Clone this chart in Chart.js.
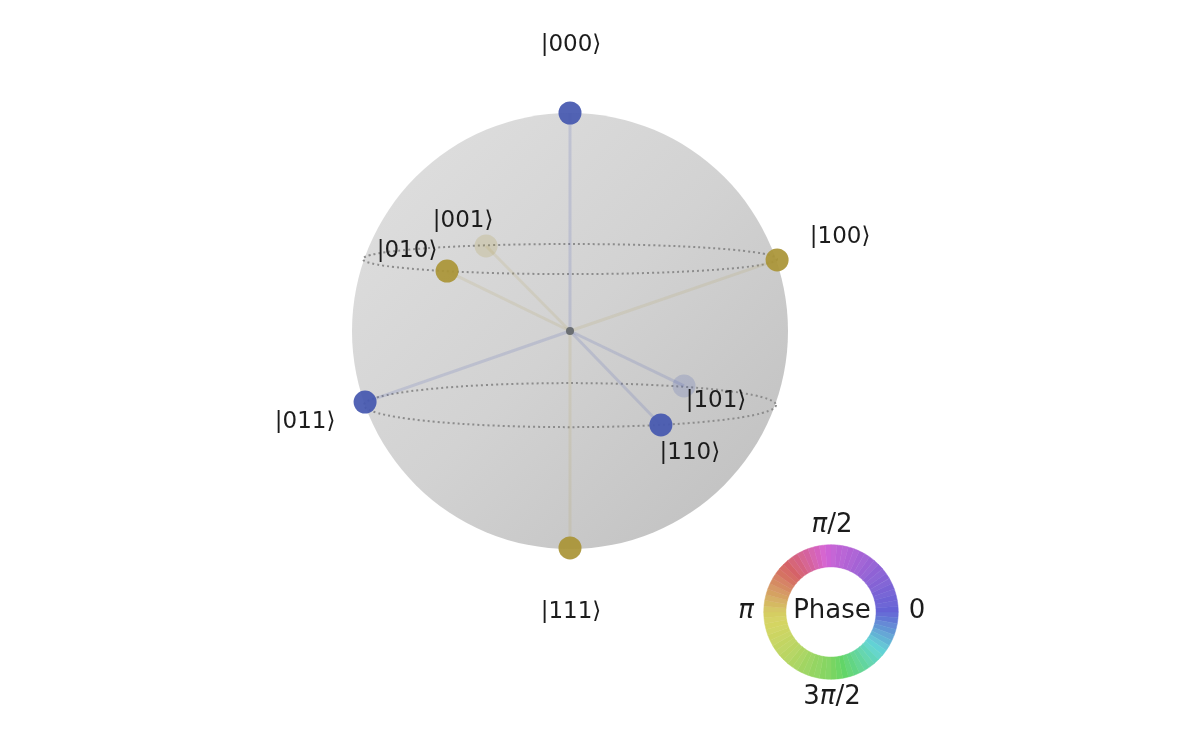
<!DOCTYPE html>
<html>
<head>
<meta charset="utf-8">
<title>Q-sphere</title>
<script src="https://cdn.jsdelivr.net/npm/chart.js@4/dist/chart.umd.min.js"></script>
<style>
  html, body { margin: 0; padding: 0; background: #fff; }
  #wrap { position: relative; width: 1200px; height: 744px; overflow: hidden; }
  #sphere { position: absolute; left: 0; top: 0; filter: blur(0.6px); }
  #wheel { position: absolute; left: 721px; top: 500px; filter: blur(0.7px); }
</style>
</head>
<body>
<div id="wrap">
  <canvas id="sphere" width="1200" height="744"></canvas>
  <canvas id="wheel" width="220" height="224"></canvas>
</div>
<script>
// basis states, positions in sphere radii
const stateLabels = ["|000⟩", "|001⟩", "|010⟩", "|011⟩", "|100⟩", "|101⟩", "|110⟩", "|111⟩"];
const stateX = [0, -0.385, -0.564, -0.94, 0.95, 0.523, 0.417, 0];
const stateY = [1, 0.39, 0.275, -0.326, 0.326, -0.252, -0.431, -0.995];
const statePhase = ["blue", "gold", "gold", "blue", "gold", "blue", "blue", "gold"];
const stateOpacity = [1, 0.2, 1, 1, 1, 0.2, 1, 1];

// dotted latitude rings
const ringY = [0.33, -0.34];
const ringRx = [0.95, 0.945];
const ringRy = [0.069, 0.101];

// phase wheel, hue measured every so often around the ring
const wheelAngles = [0, 45, 90, 120, 135, 180, 225, 270, 315, 360];
const wheelHues = [240, 265, 292, 340, 360, 415, 435, 465, 530, 600];
const wheelTicks = ["0", "π/2", "π", "3π/2"];

const cx = 570, cy = 331, unit = 218;
const phaseRgb = { blue: "70,88,175", gold: "170,148,55" };

// where each label sits relative to its point, px
const labelOffset = [
  [1, -68], [-23, -25], [-40, -20], [-60, 20], [63, -23], [32, 15], [29, 28], [1, 64],
];

const lineSets = stateLabels.map((name, i) => ({
  label: name,
  data: [{ x: 0, y: 0 }, { x: stateX[i], y: stateY[i] }],
  showLine: true,
  borderColor: `rgba(${phaseRgb[statePhase[i]]},${statePhase[i] === "blue" ? 0.17 : 0.13})`,
  borderWidth: 3,
  pointRadius: [0, 11.5],
  pointBorderWidth: 0,
  pointBackgroundColor: `rgba(${phaseRgb[statePhase[i]]},${stateOpacity[i] === 1 ? 0.93 : stateOpacity[i]})`,
}));

const originSet = {
  label: "origin",
  data: [{ x: 0, y: 0 }],
  pointRadius: 4,
  pointBorderWidth: 0,
  pointBackgroundColor: "#6a6e72",
};

const spherePlugin = {
  id: "sphere",
  beforeDatasetsDraw(chart) {
    const { ctx, scales: { x, y } } = chart;
    const px = x.getPixelForValue(0), py = y.getPixelForValue(0);
    const r = x.getPixelForValue(1) - px;
    const grad = ctx.createLinearGradient(px - r * 0.7, py - r * 0.7, px + r * 0.7, py + r * 0.7);
    grad.addColorStop(0, "#dcdcdc");
    grad.addColorStop(0.5, "#d2d2d2");
    grad.addColorStop(1, "#c4c4c4");
    ctx.save();
    ctx.fillStyle = grad;
    ctx.beginPath();
    ctx.arc(px, py, r, 0, Math.PI * 2);
    ctx.fill();
    ctx.strokeStyle = "#8c8c8c";
    ctx.lineWidth = 2;
    ctx.setLineDash([2, 3]);
    ringY.forEach((v, i) => {
      ctx.beginPath();
      ctx.ellipse(px, y.getPixelForValue(v), ringRx[i] * r, ringRy[i] * r, 0, 0, Math.PI * 2);
      ctx.stroke();
    });
    ctx.restore();
  },
  afterDatasetsDraw(chart) {
    const { ctx, scales: { x, y } } = chart;
    ctx.save();
    ctx.font = "23px 'DejaVu Sans'";
    ctx.fillStyle = "#1c1c1c";
    ctx.textAlign = "center";
    ctx.textBaseline = "middle";
    stateLabels.forEach((name, i) => {
      ctx.fillText(
        name,
        x.getPixelForValue(stateX[i]) + labelOffset[i][0],
        y.getPixelForValue(stateY[i]) + labelOffset[i][1]
      );
    });
    ctx.restore();
  },
};

new Chart(document.getElementById("sphere"), {
  type: "scatter",
  data: { datasets: [originSet, ...lineSets] },
  plugins: [spherePlugin],
  options: {
    responsive: false,
    animation: false,
    layout: { padding: 0, autoPadding: false },
    plugins: { legend: { display: false }, tooltip: { enabled: false } },
    scales: {
      x: { display: false, min: -cx / unit, max: (1200 - cx) / unit },
      y: { display: false, min: -(744 - cy) / unit, max: cy / unit },
    },
  },
});

// hue at an angle on the ring, counterclockwise from the right
const hueAt = (deg) => {
  let i = 0;
  while (i < wheelAngles.length - 2 && deg > wheelAngles[i + 1]) i++;
  const t = (deg - wheelAngles[i]) / (wheelAngles[i + 1] - wheelAngles[i]);
  return (wheelHues[i] + t * (wheelHues[i + 1] - wheelHues[i])) % 360;
};

const sliceCount = 72;
const wheelColors = [];
const wheelSizes = [];
for (let i = 0; i < sliceCount; i++) {
  // doughnut runs clockwise, the phase runs the other way
  const deg = 360 - (i + 0.5) * (360 / sliceCount);
  const shade = i % 2 ? 61 : 62;
  wheelColors.push(`hsl(${hueAt(deg)}, 58%, ${shade}%)`);
  wheelSizes.push(1);
}

const wheelTextPlugin = {
  id: "wheelText",
  afterDraw(chart) {
    const { ctx } = chart;
    const mx = 110, my = 112;
    const font = "26px 'DejaVu Sans'";
    const italic = "italic 26px 'DejaVu Sans'";
    const piece = (str, px, py) => {
      // pi is set slanted, the rest upright
      const parts = str.split(/(π)/).filter(Boolean);
      let w = 0;
      parts.forEach((p) => {
        ctx.font = p === "π" ? italic : font;
        w += ctx.measureText(p).width;
      });
      let at = px - w / 2;
      parts.forEach((p) => {
        ctx.font = p === "π" ? italic : font;
        ctx.fillText(p, at, py);
        at += ctx.measureText(p).width;
      });
    };
    ctx.save();
    ctx.fillStyle = "#1c1c1c";
    ctx.textAlign = "left";
    ctx.textBaseline = "middle";
    piece("Phase", mx + 1, my - 1);
    piece(wheelTicks[0], mx + 86, my - 1);
    piece(wheelTicks[1], mx + 1, my - 87);
    piece(wheelTicks[2], mx - 85, my - 1);
    piece(wheelTicks[3], mx + 1, my + 85);
    ctx.restore();
  },
};

new Chart(document.getElementById("wheel"), {
  type: "doughnut",
  data: {
    labels: wheelColors.map((_, i) => i),
    datasets: [{ data: wheelSizes, backgroundColor: wheelColors, borderColor: wheelColors, borderWidth: 0.5 }],
  },
  plugins: [wheelTextPlugin],
  options: {
    responsive: false,
    animation: false,
    rotation: 90,
    cutout: "67%",
    layout: { padding: { left: 42.5, right: 42.5, top: 44.5, bottom: 44.5 } },
    plugins: { legend: { display: false }, tooltip: { enabled: false } },
  },
});
</script>
</body>
</html>
